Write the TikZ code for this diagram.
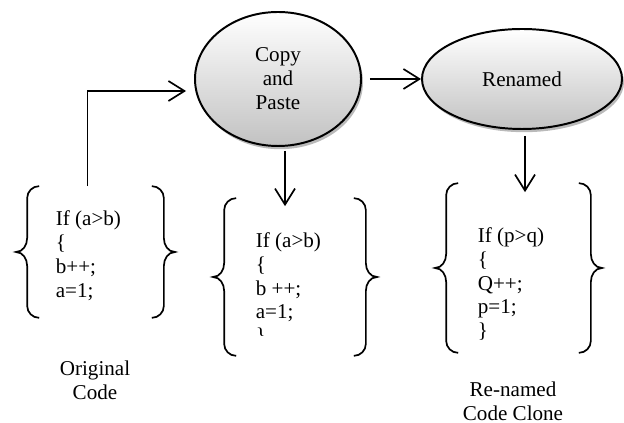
\documentclass[tikz,border=0pt]{standalone}
\usepackage{fontspec}
\setmainfont{Liberation Serif}
\usetikzlibrary{arrows.meta, shapes.geometric, shadows}

% curly brackets on both sides of a named frame node
\newcommand{\codebraces}[1]{%
  \draw[brc] ([xshift=0.3cm]#1.north west) to[out=180, in=90] ([yshift=-0.3cm]#1.north west)
    -- ([yshift=0.35cm]#1.west) to[out=-90, in=0] ([xshift=-0.28cm]#1.west)
    to[out=0, in=90] ([yshift=-0.35cm]#1.west) -- ([yshift=0.3cm]#1.south west)
    to[out=-90, in=180] ([xshift=0.3cm]#1.south west);
  \draw[brc] ([xshift=-0.3cm]#1.north east) to[out=0, in=90] ([yshift=-0.3cm]#1.north east)
    -- ([yshift=0.35cm]#1.east) to[out=-90, in=180] ([xshift=0.28cm]#1.east)
    to[out=180, in=90] ([yshift=-0.35cm]#1.east) -- ([yshift=0.3cm]#1.south east)
    to[out=-90, in=0] ([xshift=-0.3cm]#1.south east);
}

\begin{document}
\begin{tikzpicture}[>={Straight Barb[length=4mm, width=5mm]}, line width=1.2pt,
  font=\fontsize{15}{17}\selectfont,
  oval/.style={ellipse, draw, line width=1.4pt, inner sep=0pt, align=center,
    top color=white, bottom color=black!24,
    drop shadow={shadow xshift=0.05cm, shadow yshift=-0.08cm, fill=black!60, opacity=0.45}},
  frame/.style={inner sep=0pt},
  brc/.style={line width=1.2pt},
  code/.style={align=left, inner sep=0pt, anchor=west},
  caption/.style={align=center, inner sep=0pt}]
\useasboundingbox (0,0) rectangle (15.6,10.575);

\node[oval, minimum width=4.15cm, minimum height=3.35cm] (copy) at (6.95,8.6) {Copy\\and\\Paste};
\node[oval, minimum width=5cm, minimum height=2.5cm] (renamed) at (13.05,8.6) {Renamed};

% the three code fragments
\node[frame, minimum width=3.375cm, minimum height=3.25cm] (orig) at (2.3875,4.275) {};
\node[frame, minimum width=3.5cm, minimum height=3.9cm] (mid) at (7.375,3.65) {};
\node[frame, minimum width=3.575cm, minimum height=4.2cm] (clone) at (12.9625,3.875) {};
\codebraces{orig}
\codebraces{mid}
\codebraces{clone}

\node[code] (origcode) at (1.375,4.175) {If (a>b)\\\{\\b++;\\a=1;};
\begin{scope}
  \clip (mid.north west) rectangle ([yshift=0.5cm]mid.south east);
  \node[code] (midcode) at (6.375,3.35) {If (a>b)\\\{\\b ++;\\a=1;\\\}};
\end{scope}
\node[code] (clonecode) at (11.925,3.475) {If (p>q)\\\{\\Q++;\\p=1;\\\}};

\node[caption] (origlabel) at (2.375,1.075) {Original\\Code};
\node[caption] (clonelabel) at (12.825,0.55) {Re-named\\Code Clone};

\draw[->, shorten >=0.2cm] ([xshift=-0.2cm]orig.north) |- ([yshift=-0.3cm]copy.west);
\draw[->, shorten <=0.2cm] (copy) -- (renamed);
\draw[->, shorten <=0.1cm, shorten >=-0.2cm] ([xshift=0.175cm]copy.south) -- ([xshift=0.175cm]copy.south |- mid.north);
\draw[->, shorten <=0.15cm, shorten >=-0.225cm] ([xshift=0.075cm]renamed.south) -- ([xshift=0.075cm]renamed.south |- clone.north);
\end{tikzpicture}
\end{document}
